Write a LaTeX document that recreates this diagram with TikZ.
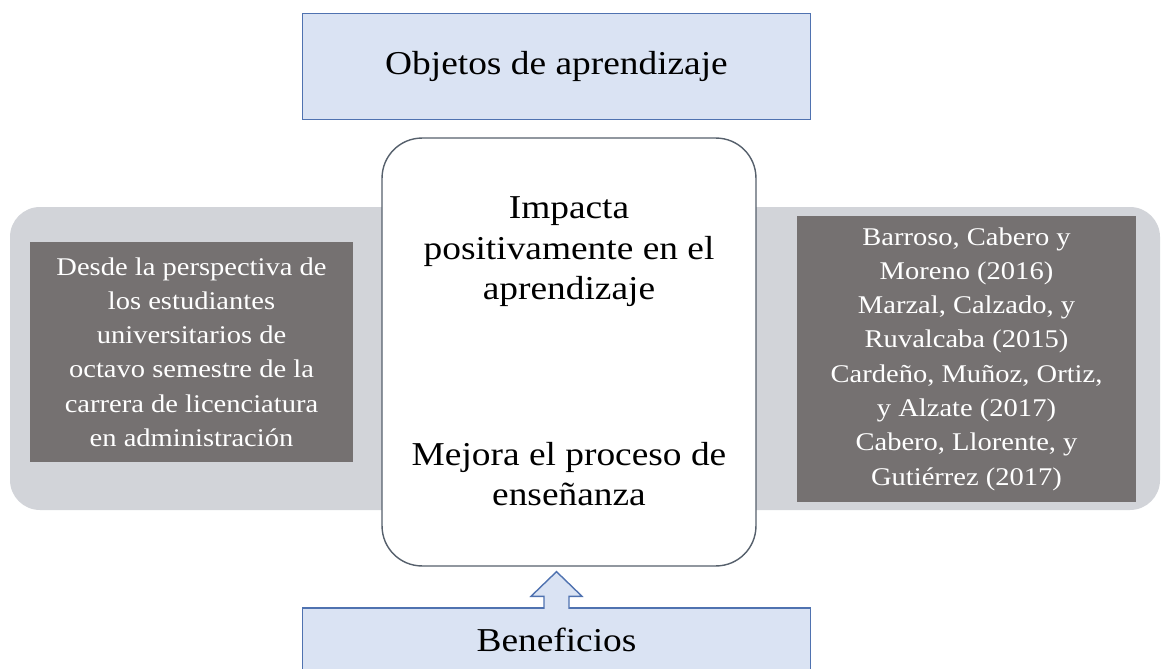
\documentclass[tikz,border=0pt]{standalone}
\usepackage{fontspec}
\setmainfont[FakeStretch=1.12]{Liberation Serif}
\usetikzlibrary{calc}
\definecolor{azulclaro}{HTML}{DAE3F3}
\definecolor{azulborde}{HTML}{4F72B0}
\definecolor{grisbanda}{HTML}{D2D4D9}
\definecolor{grisoscuro}{HTML}{757171}
\definecolor{bordecentro}{HTML}{56606C}
\begin{document}
\begin{tikzpicture}[x=0.02cm,y=-0.02cm,
  titulo/.style={draw=azulborde,fill=azulclaro,line width=0.8pt,minimum width=10.16cm,font=\fontsize{19}{23}\selectfont},
  cita/.style={fill=grisoscuro,text=white,align=center,inner sep=0pt,font=\fontsize{14.5}{19.5}\selectfont},
  texto/.style={align=center,font=\fontsize{19}{23}\selectfont}]
\useasboundingbox (0,0) rectangle (1163,669);
% banda gris de fondo
\fill[grisbanda,rounded corners=0.6cm] (10,207) rectangle (1160,510);
\node[titulo,minimum height=2.12cm] (objetos) at (556.5,66.5) {Objetos de aprendizaje};
\node[titulo,minimum height=1.28cm] (beneficios) at (556.5,640) {Beneficios};
\node[draw=bordecentro,fill=white,line width=0.8pt,rounded corners=0.8cm,minimum width=7.48cm,minimum height=8.56cm] (centro) at (569,352) {};
\node[texto] (impacta) at (569,252) {Impacta\\positivamente en el\\aprendizaje};
\node[texto] (mejora) at (569,474) {Mejora el proceso de\\enseñanza};
\node[cita,minimum width=6.46cm,minimum height=4.4cm] (perspectiva) at (191.5,352) {Desde la perspectiva de\\los estudiantes\\universitarios de\\octavo semestre de la\\carrera de licenciatura\\en administración};
\node[cita,minimum width=6.78cm,minimum height=5.72cm] (autores) at (966.5,359) {Barroso, Cabero y\\Moreno (2016)\\Marzal, Calzado, y\\Ruvalcaba (2015)\\Cardeño, Muñoz, Ortiz,\\y Alzate (2017)\\Cabero, Llorente, y\\Gutiérrez (2017)};
% flecha de beneficios
\coordinate (punta) at ($(beneficios.north |- centro.south)+(0,5)$);
\filldraw[fill=azulclaro,draw=azulborde,line width=0.8pt,line join=miter]
  ($(beneficios.north)+(-12.5,1.5)$) -- ++(0,-12.5) -- ++(-13,0) -- (punta)
  -- ($(beneficios.north)+(25.5,-11)$) -- ++(-13,0) -- ($(beneficios.north)+(12.5,1.5)$);
\end{tikzpicture}
\end{document}
